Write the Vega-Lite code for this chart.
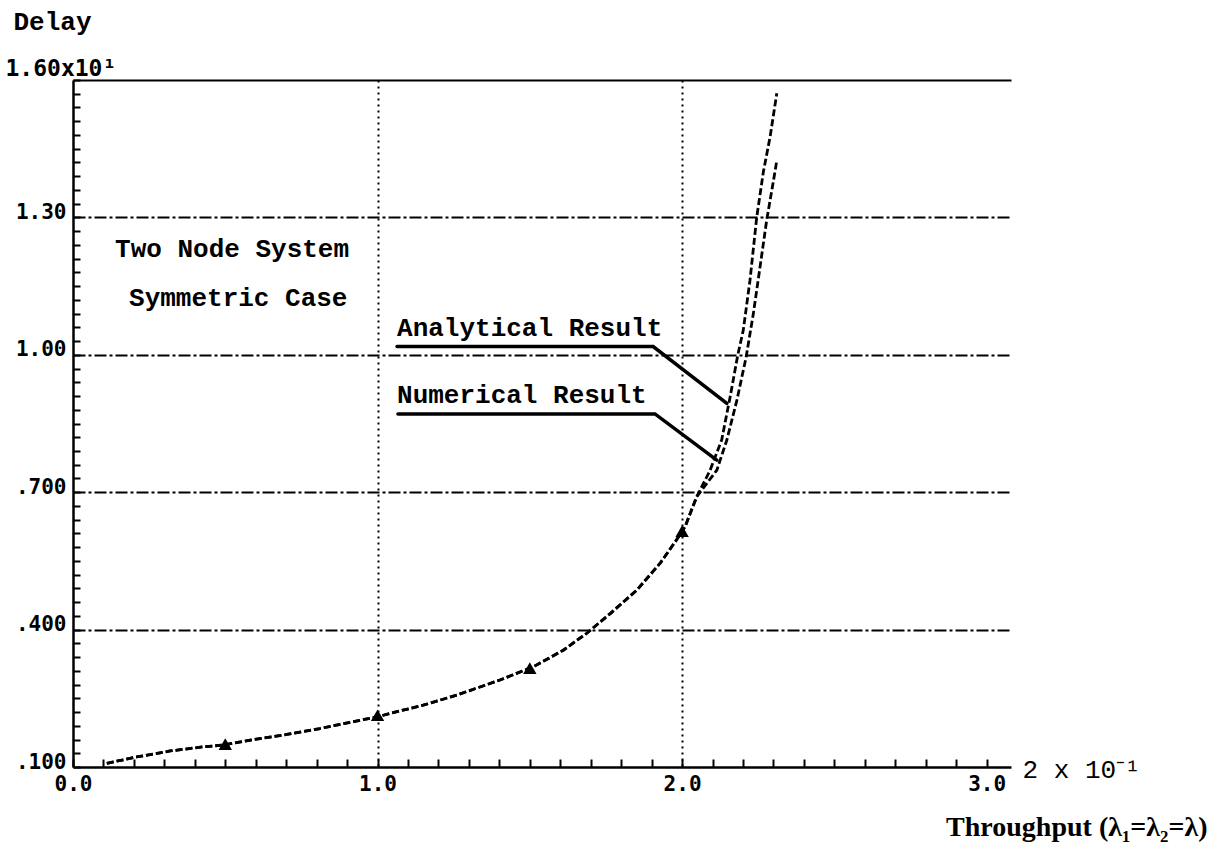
{
  "$schema": "https://vega.github.io/schema/vega-lite/v6.json",
  "width": 938,
  "height": 687,
  "autosize": {"type": "none"},
  "padding": {"left": 73, "top": 80, "right": 211, "bottom": 86},
  "background": "white",
  "config": {"view": {"stroke": null}},
  "datasets": {
    "curves": [
      {"s": "Analytical", "x": 0.111, "y": 0.108}, {"s": "Analytical", "x": 0.209, "y": 0.122}, {"s": "Analytical", "x": 0.319, "y": 0.135},
      {"s": "Analytical", "x": 0.428, "y": 0.144}, {"s": "Analytical", "x": 0.494, "y": 0.148}, {"s": "Analytical", "x": 0.592, "y": 0.160},
      {"s": "Analytical", "x": 0.702, "y": 0.171}, {"s": "Analytical", "x": 0.811, "y": 0.184}, {"s": "Analytical", "x": 0.921, "y": 0.199},
      {"s": "Analytical", "x": 1.003, "y": 0.210}, {"s": "Analytical", "x": 1.041, "y": 0.217}, {"s": "Analytical", "x": 1.150, "y": 0.235},
      {"s": "Analytical", "x": 1.260, "y": 0.257}, {"s": "Analytical", "x": 1.402, "y": 0.290}, {"s": "Analytical", "x": 1.512, "y": 0.319},
      {"s": "Analytical", "x": 1.610, "y": 0.355}, {"s": "Analytical", "x": 1.687, "y": 0.392}, {"s": "Analytical", "x": 1.764, "y": 0.435},
      {"s": "Analytical", "x": 1.851, "y": 0.486}, {"s": "Analytical", "x": 1.928, "y": 0.545}, {"s": "Analytical", "x": 1.982, "y": 0.596},
      {"s": "Analytical", "x": 2.010, "y": 0.625}, {"s": "Analytical", "x": 2.048, "y": 0.690}, {"s": "Analytical", "x": 2.092, "y": 0.748},
      {"s": "Analytical", "x": 2.130, "y": 0.814}, {"s": "Analytical", "x": 2.158, "y": 0.909}, {"s": "Analytical", "x": 2.183, "y": 1.000},
      {"s": "Analytical", "x": 2.201, "y": 1.054}, {"s": "Analytical", "x": 2.223, "y": 1.163}, {"s": "Analytical", "x": 2.245, "y": 1.300},
      {"s": "Analytical", "x": 2.267, "y": 1.400}, {"s": "Analytical", "x": 2.289, "y": 1.476}, {"s": "Analytical", "x": 2.311, "y": 1.571},
      {"s": "Numerical", "x": 0.111, "y": 0.108}, {"s": "Numerical", "x": 0.209, "y": 0.122}, {"s": "Numerical", "x": 0.319, "y": 0.135},
      {"s": "Numerical", "x": 0.428, "y": 0.144}, {"s": "Numerical", "x": 0.494, "y": 0.148}, {"s": "Numerical", "x": 0.592, "y": 0.160},
      {"s": "Numerical", "x": 0.702, "y": 0.171}, {"s": "Numerical", "x": 0.811, "y": 0.184}, {"s": "Numerical", "x": 0.921, "y": 0.199},
      {"s": "Numerical", "x": 1.003, "y": 0.210}, {"s": "Numerical", "x": 1.041, "y": 0.217}, {"s": "Numerical", "x": 1.150, "y": 0.235},
      {"s": "Numerical", "x": 1.260, "y": 0.257}, {"s": "Numerical", "x": 1.402, "y": 0.290}, {"s": "Numerical", "x": 1.512, "y": 0.319},
      {"s": "Numerical", "x": 1.610, "y": 0.355}, {"s": "Numerical", "x": 1.687, "y": 0.392}, {"s": "Numerical", "x": 1.764, "y": 0.435},
      {"s": "Numerical", "x": 1.851, "y": 0.486}, {"s": "Numerical", "x": 1.928, "y": 0.545}, {"s": "Numerical", "x": 1.982, "y": 0.596},
      {"s": "Numerical", "x": 2.010, "y": 0.625}, {"s": "Numerical", "x": 2.048, "y": 0.690}, {"s": "Numerical", "x": 2.114, "y": 0.748},
      {"s": "Numerical", "x": 2.147, "y": 0.814}, {"s": "Numerical", "x": 2.180, "y": 0.901}, {"s": "Numerical", "x": 2.210, "y": 0.994},
      {"s": "Numerical", "x": 2.234, "y": 1.090}, {"s": "Numerical", "x": 2.256, "y": 1.192}, {"s": "Numerical", "x": 2.278, "y": 1.295},
      {"s": "Numerical", "x": 2.300, "y": 1.380}, {"s": "Numerical", "x": 2.311, "y": 1.424}
    ],
    "markers": [
      {"x": 0.5, "y": 0.150}, {"x": 1.0, "y": 0.213}, {"x": 1.5, "y": 0.316}, {"x": 2.0, "y": 0.615}
    ],
    "leaders": [
      {"s": "a", "i": 1, "x": 1.064, "y": 1.018}, {"s": "a", "i": 2, "x": 1.905, "y": 1.018}, {"s": "a", "i": 3, "x": 2.147, "y": 0.894},
      {"s": "n", "i": 1, "x": 1.067, "y": 0.871}, {"s": "n", "i": 2, "x": 1.911, "y": 0.871}, {"s": "n", "i": 3, "x": 2.114, "y": 0.770}
    ],
    "notes": [
      {"x": 0.138, "y": 1.232, "text": "Two Node System"},
      {"x": 0.184, "y": 1.125, "text": "Symmetric Case"},
      {"x": 1.064, "y": 1.059, "text": "Analytical Result"},
      {"x": 1.064, "y": 0.912, "text": "Numerical Result"}
    ]
  },
  "layer": [
    {
      "data": {"name": "curves"},
      "mark": {"type": "line", "color": "black", "strokeWidth": 2.8, "strokeDash": [7, 3]},
      "encoding": {
        "x": {
          "field": "x", "type": "quantitative",
          "scale": {"domain": [0, 3.08], "nice": false, "zero": false},
          "axis": {
            "orient": "bottom",
            "values": [0, 1, 2, 3], "format": ".1f",
            "labelFont": "DejaVu Sans Mono", "labelFontSize": 21, "labelFontWeight": "bold", "labelColor": "black",
            "labelPadding": 6, "labelFlush": false, "labelOverlap": false, "ticks": false,
            "domain": true, "domainColor": "black", "domainWidth": 2.5,
            "grid": true, "gridColor": "black", "gridWidth": 2, "gridDash": [2, 4],
            "gridOpacity": {"condition": {"test": "datum.value > 0.5 && datum.value < 2.5", "value": 1}, "value": 0},
            "title": "Throughput (λ₁=λ₂=λ)",
            "titleFont": "Liberation Serif", "titleFontSize": 28, "titleFontWeight": "bold", "titleColor": "black",
            "titleAlign": "right", "titleBaseline": "alphabetic", "titleX": 1134, "titleY": 68
          }
        },
        "y": {
          "field": "y", "type": "quantitative",
          "scale": {"domain": [0.1, 1.6], "nice": false, "zero": false},
          "axis": {
            "orient": "left",
            "values": [0.1, 0.4, 0.7, 1.0, 1.3, 1.6],
            "labelExpr": "datum.value > 1.55 ? '' : (datum.value >= 0.99 ? format(datum.value, '.2f') : replace(format(datum.value, '.3f'), '0.', '.'))",
            "labelFont": "DejaVu Sans Mono", "labelFontSize": 21, "labelFontWeight": "bold", "labelColor": "black",
            "labelPadding": 7, "labelFlush": false, "labelOverlap": false, "labelBaseline": "alphabetic", "labelOffset": 1, "ticks": false,
            "domain": true, "domainColor": "black", "domainWidth": 2.5,
            "grid": true, "gridColor": "black", "gridWidth": 2,
            "gridDash": {"condition": {"test": "datum.value > 1.55", "value": []}, "value": [12, 3, 3, 3]},
            "gridOpacity": {"condition": {"test": "datum.value < 0.15", "value": 0}, "value": 1},
            "title": "Delay",
            "titleFont": "Liberation Mono", "titleFontSize": 26, "titleFontWeight": "bold", "titleColor": "black",
            "titleAngle": 0, "titleAlign": "left", "titleBaseline": "alphabetic", "titleX": -60, "titleY": -51
          }
        },
        "detail": {"field": "s", "type": "nominal"}
      }
    },
    {
      "data": {"name": "markers"},
      "mark": {"type": "point", "shape": "triangle-up", "filled": true, "color": "black", "size": 180, "opacity": 1},
      "encoding": {
        "x": {
          "field": "x", "type": "quantitative",
          "scale": {"domain": [0, 3.08], "nice": false, "zero": false},
          "axis": {
            "orient": "bottom",
            "values": [0, 0.1, 0.2, 0.3, 0.4, 0.5, 0.6, 0.7, 0.8, 0.9, 1.0, 1.1, 1.2, 1.3, 1.4, 1.5, 1.6, 1.7, 1.8, 1.9, 2.0, 2.1, 2.2, 2.3, 2.4, 2.5, 2.6, 2.7, 2.8, 2.9, 3.0],
            "labels": false, "domain": false, "grid": false,
            "ticks": true, "tickSize": -8, "tickWidth": 2, "tickColor": "black",
            "title": "2 x 10⁻¹",
            "titleFont": "Liberation Mono", "titleFontSize": 26, "titleFontWeight": "normal", "titleColor": "black",
            "titleAlign": "left", "titleBaseline": "alphabetic", "titleX": 949, "titleY": 10
          }
        },
        "y": {
          "field": "y", "type": "quantitative",
          "scale": {"domain": [0.1, 1.6], "nice": false, "zero": false},
          "axis": {
            "orient": "left",
            "values": [0.1, 0.13, 0.16, 0.19, 0.22, 0.25, 0.28, 0.31, 0.34, 0.37, 0.4, 0.43, 0.46, 0.49, 0.52, 0.55, 0.58, 0.61, 0.64, 0.67, 0.7, 0.73, 0.76, 0.79, 0.82, 0.85, 0.88, 0.91, 0.94, 0.97, 1.0, 1.03, 1.06, 1.09, 1.12, 1.15, 1.18, 1.21, 1.24, 1.27, 1.3, 1.33, 1.36, 1.39, 1.42, 1.45, 1.48, 1.51, 1.54, 1.57, 1.6],
            "labels": false, "domain": false, "grid": false,
            "ticks": true, "tickSize": -7, "tickWidth": 2, "tickColor": "black",
            "title": "1.60x10¹",
            "titleFont": "DejaVu Sans Mono", "titleFontSize": 23, "titleFontWeight": "bold", "titleColor": "black",
            "titleAngle": 0, "titleAlign": "left", "titleBaseline": "alphabetic", "titleX": -68, "titleY": -5
          }
        }
      }
    },
    {
      "data": {"name": "leaders"},
      "mark": {"type": "line", "color": "black", "strokeWidth": 3.5, "strokeCap": "round"},
      "encoding": {
        "x": {"field": "x", "type": "quantitative", "scale": {"domain": [0, 3.08], "nice": false, "zero": false}, "axis": null},
        "y": {"field": "y", "type": "quantitative", "scale": {"domain": [0.1, 1.6], "nice": false, "zero": false}, "axis": null},
        "detail": {"field": "s", "type": "nominal"},
        "order": {"field": "i", "type": "quantitative"}
      }
    },
    {
      "data": {"name": "notes"},
      "mark": {"type": "text", "align": "left", "baseline": "middle", "font": "Liberation Mono", "fontSize": 26, "fontWeight": "bold", "color": "black"},
      "encoding": {
        "x": {"field": "x", "type": "quantitative", "scale": {"domain": [0, 3.08], "nice": false, "zero": false}, "axis": null},
        "y": {"field": "y", "type": "quantitative", "scale": {"domain": [0.1, 1.6], "nice": false, "zero": false}, "axis": null},
        "text": {"field": "text", "type": "nominal"}
      }
    }
  ],
  "resolve": {"axis": {"x": "independent", "y": "independent"}}
}
